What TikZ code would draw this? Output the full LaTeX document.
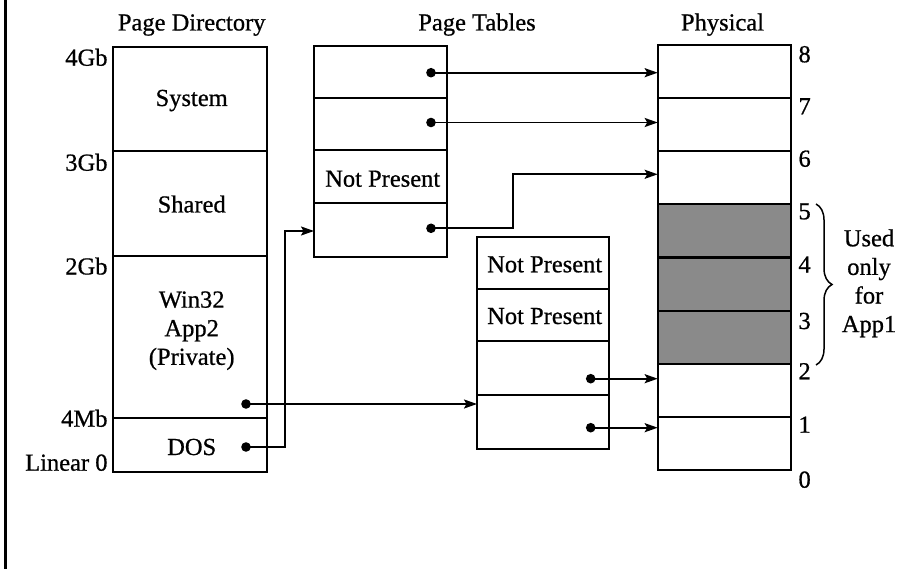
\documentclass[tikz,border=0pt]{standalone}
\usepackage{fontspec}
\setmainfont[FakeBold=0.7]{Liberation Serif}
\usetikzlibrary{arrows.meta,decorations.pathreplacing}
\begin{document}
\begin{tikzpicture}[x=1pt,y=-1pt,
  every node/.style={font=\fontsize{24.5}{28.6}\selectfont, inner sep=0pt, outer sep=0pt},
  cell/.style n args={2}{draw, line width=2.1pt, minimum width=#1, minimum height=#2, anchor=north west},
  used/.style={fill={rgb,255:red,138;green,138;blue,138}},
  link/.style={line width=1.9pt, -{Stealth[length=13pt,width=9pt,inset=2.5pt]}},
  lbl/.style={anchor=base}]
\useasboundingbox (0,0) rectangle (909,569);
% frame rule on the left
\draw[line width=3pt] (5,0) -- (5,569);

% titles
\node[lbl] (tdir) at (191.7,30.5) {Page Directory};
\node[lbl] (ttab) at (477,30.5) {Page Tables};
\node[lbl] (tphy) at (722.5,30.5) {Physical};

% page directory
\node[cell={154.6pt}{104pt}] (sys) at (112.7,47) {};
\node[cell={154.6pt}{105pt}] (shr) at (112.7,151) {};
\node[cell={154.6pt}{162pt}] (w32) at (112.7,256) {};
\node[cell={154.6pt}{54pt}]  (dos) at (112.7,418) {};
\node[lbl] (tsys) at (191.7,106) {System};
\node[lbl] (tshr) at (191.7,212.5) {Shared};
\node[anchor=north, align=center] (tw32) at (191.7,291.4) {Win32\\App2\\(Private)};
\node[lbl] (tdos) at (191.7,455) {DOS};

% address marks
\node[anchor=base east] (a4g) at (107.5,65.7) {4Gb};
\node[anchor=base east] (a3g) at (107.5,170.7) {3Gb};
\node[anchor=base east] (a2g) at (107.5,274.5) {2Gb};
\node[anchor=base east] (a4m) at (107.5,426.7) {4Mb};
\node[anchor=base east] (a0) at (107.5,470.7) {Linear 0};

% first page table
\node[cell={132.7pt}{51.7pt}] (pa1) at (314,46) {};
\node[cell={132.7pt}{52.3pt}] (pa2) at (314,97.7) {};
\node[cell={132.7pt}{53pt}]   (pa3) at (314,150) {};
\node[cell={132.7pt}{54pt}]   (pa4) at (314,203) {};
\node[lbl] (tpa3) at (382.7,186.7) {Not Present};

% second page table
\node[cell={132.3pt}{51.7pt}] (pb1) at (477,237.3) {};
\node[cell={132.3pt}{52pt}]   (pb2) at (477,289) {};
\node[cell={132.3pt}{53.7pt}] (pb3) at (477,341) {};
\node[cell={132.3pt}{54.6pt}] (pb4) at (477,394.7) {};
\node[lbl] (tpb1) at (544.7,272.3) {Not Present};
\node[lbl] (tpb2) at (544.7,324) {Not Present};

% physical memory frames
\foreach \k in {0,...,7}{
  \pgfmathsetmacro{\yy}{44.7+53.2*\k}
  \ifnum\k>2 \ifnum\k<6
    \node[cell={133.3pt}{53.2pt}, used] (ph\k) at (657.7,\yy) {};
  \else
    \node[cell={133.3pt}{53.2pt}] (ph\k) at (657.7,\yy) {};
  \fi\else
    \node[cell={133.3pt}{53.2pt}] (ph\k) at (657.7,\yy) {};
  \fi
}
\foreach \n/\b in {8/62.3,7/114.3,6/166.7,5/219.3,4/272.5,3/329,2/379.3,1/432.7,0/487.7}
  \node[anchor=base west] (fn\n) at (798.5,\b) {\n};

% frames reserved for App1
\draw[line width=1.5pt, decorate, decoration={brace, amplitude=16pt}] (816,204) -- (816,365);
\node[anchor=north, align=center] (app1) at (869,229.3) {Used\\only\\for\\App1};

% entry pointers
\coordinate (d1) at (431,72.7);
\coordinate (d2) at (431,122.5);
\coordinate (d4) at (431,228.3);
\coordinate (dw) at (246,404);
\coordinate (dd) at (246,447);
\coordinate (e3) at (590.7,378.7);
\coordinate (e4) at (590.7,427.7);
\coordinate (bend1) at (513,228.3);
\coordinate (bend2) at (513,174.3);
\coordinate (bend3) at (285,447);
\coordinate (bend4) at (285,231);
\foreach \c in {d1,d2,d4,dw,dd,e3,e4} \fill (\c) circle (4.8pt);

\draw[link] (d1) -- (d1 -| ph0.west);
\draw[link] (d2) -- (d2 -| ph1.west);
\draw[link] (d4) -- (bend1) -- (bend2) -- (bend2 -| ph2.west);
\draw[link] (dd) -- (bend3) -- (bend4) -- (bend4 -| pa4.west);
\draw[link] (dw) -- (dw -| pb4.west);
\draw[link] (e3) -- (e3 -| ph6.west);
\draw[link] (e4) -- (e4 -| ph7.west);
\end{tikzpicture}
\end{document}
